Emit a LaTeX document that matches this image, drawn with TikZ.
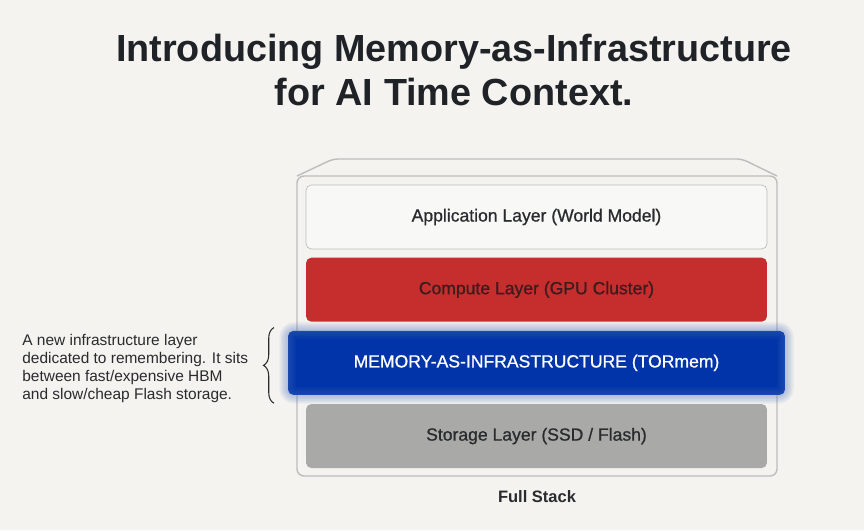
\documentclass[tikz,border=0pt]{standalone}
\usepackage{fontspec}
\setmainfont{Liberation Sans}
\newfontfamily\layerfont{Liberation Sans}[FakeBold=0.9]
\usetikzlibrary{positioning,calc,decorations.pathreplacing}

\definecolor{paper}{HTML}{F4F3EF}
\definecolor{inktitle}{HTML}{1F2226}
\definecolor{inkdark}{HTML}{2A2B2E}
\definecolor{caseline}{HTML}{BDBDBB}
\definecolor{appfill}{HTML}{F8F8F6}
\definecolor{computered}{HTML}{C62D2D}
\definecolor{computeink}{HTML}{3D1C1C}
\definecolor{memblue}{HTML}{0034A8}
\definecolor{storegray}{HTML}{A9A9A8}

\begin{document}
\begin{tikzpicture}[
    x=0.02cm, y=-0.02cm,
    layerbox/.style={rectangle, rounded corners=3pt, minimum width=9.22cm, minimum height=1.28cm, align=center, font=\layerfont\fontsize{10}{12}\selectfont},
    membox/.style={layerbox, minimum width=9.94cm, fill=memblue, text=white},
    caseedge/.style={draw=caseline, line width=0.8pt}
]
\useasboundingbox[fill=paper] (0,0) rectangle (864,530);

% title
\node[align=center, text=inktitle, font=\fontsize{21.5}{25.5}\selectfont\bfseries] (title) at (454,70)
    {Introducing Memory-as-Infrastructure\\for AI Time Context.};

% stack case
\draw[caseedge, rounded corners=4pt] (297,176) rectangle (777,476);
\draw[caseedge, rounded corners=3pt] (297,176) -- (333,159) -- (742,159) -- (777,176);

% layers
\node[layerbox, draw=caseline, fill=appfill, text=inkdark] (app) at (536.5,217) {Application Layer (World Model)};
\node[layerbox, fill=computered, text=computeink, below=0.16cm of app] (compute) {Compute Layer (GPU Cluster)};
\node[membox, below=0.17cm of compute] (memory) {MEMORY-AS-INFRASTRUCTURE (TORmem)};
\node[layerbox, fill=storegray, text=inkdark, below=0.17cm of memory] (storage) {Storage Layer (SSD / Flash)};

% glow round the memory layer
\foreach \g in {1,...,6}
  \draw[memblue!70, opacity=0.07, line width=\g*1.6pt, rounded corners=4pt] (memory.south west) rectangle (memory.north east);

\node[text=inkdark, font=\fontsize{9.4}{11}\selectfont\bfseries] (stacklabel) at (537,497) {Full Stack};

% note on the left
\node[anchor=north west, inner sep=0pt, align=left, text=inkdark, font=\fontsize{8.8}{10.2}\selectfont] (note) at (22,334)
    {A new infrastructure layer\\dedicated to remembering. It sits\\between fast/expensive HBM\\and slow/cheap Flash storage.};

\coordinate (brace_bot) at (memory.south west -| 274,0);
\coordinate (brace_top) at (memory.north west -| 274,0);
\draw[inkdark, line width=0.6pt, decorate, decoration={brace, amplitude=6pt}] ($(brace_bot)+(0,8)$) -- ($(brace_top)+(0,-3)$);

\end{tikzpicture}
\end{document}
